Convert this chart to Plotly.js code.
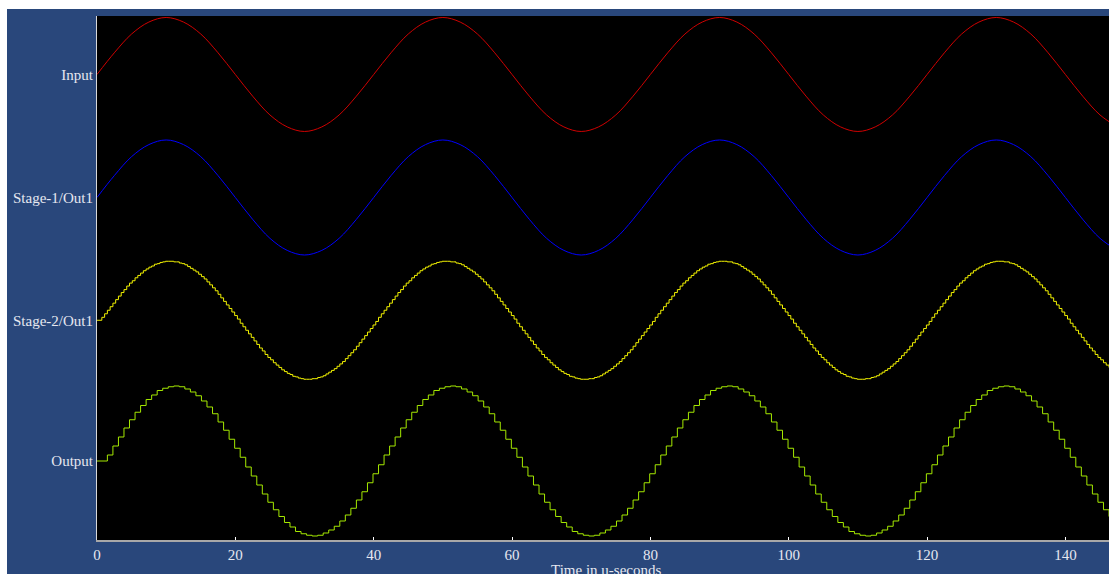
<!DOCTYPE html>
<html>
<head>
<meta charset="utf-8">
<script src="https://cdn.plot.ly/plotly-3.0.1.min.js"></script>
<style>
  html, body { margin: 0; padding: 0; background: #ffffff; width: 1109px; height: 574px; overflow: hidden; }
  #chart { position: absolute; left: 7px; top: 9px; width: 1102px; height: 565px; }
</style>
</head>
<body>
<div id="chart"></div>
<script>
// ---- Signal names (y tick labels) ----
const signalNames = ["Input", "Stage-1/Out1", "Stage-2/Out1", "Output"];
const xTitle = "Time in u-seconds";
// baseline of each stacked signal and its swing (in input-amplitude units)
const offsets = [0, -2.158, -4.312, -6.781];
const amplitudes = [1, 1.009, 1.035, 1.316];

// ---- Sampling clocks (µs) ----
const inputStep = 2.5;            // smooth input sampled every 2.5 µs
const stage1Step = 2.5;
const stage2FirstEdge = 0.7, stage2Step = 0.4;
const outputFirstEdge = 1.5, outputStep = 0.8;

// ---- Normalised signal values ----
const inputValues = [0,.38,.71,.92,1,.92,.71,.38,0,-.38,-.71,-.92,-1,-.92,-.71,-.38,
  0,.38,.71,.92,1,.92,.71,.38,0,-.38,-.71,-.92,-1,-.92,-.71,-.38,
  0,.38,.71,.92,1,.92,.71,.38,0,-.38,-.71,-.92,-1,-.92,-.71,-.38,
  0,.38,.71,.92,1,.92,.71,.38,0,-.38,-.71,-.92];

const stage1Values = [0,.38,.71,.92,1,.92,.71,.38,0,-.38,-.71,-.92,-1,-.92,-.71,-.38,
  0,.38,.71,.92,1,.92,.71,.38,0,-.38,-.71,-.92,-1,-.92,-.71,-.38,
  0,.38,.71,.92,1,.92,.71,.38,0,-.38,-.71,-.92,-1,-.92,-.71,-.38,
  0,.38,.71,.92,1,.92,.71,.38,0,-.38,-.71,-.92];

// held values: first entry is the level before the first clock edge
const stage2Values = [0,
  .05,.11,.17,.23,.29,.35,.41,.47,.52,.58,.63,.67,.72,.76,.8,.84,.87,.9,.92,.95,.96,.98,.99,1,1,1,.99,.99,.97,.96,.94,.91,.88,.85,.82,.78,.74,.7,.65,.6,.55,.5,.44,.38,.32,.26,.2,.14,.08,.02,
  -.05,-.11,-.17,-.23,-.29,-.35,-.41,-.47,-.52,-.58,-.63,-.67,-.72,-.76,-.8,-.84,-.87,-.9,-.92,-.95,-.96,-.98,-.99,-1,-1,-1,-.99,-.99,-.97,-.96,-.94,-.91,-.88,-.85,-.82,-.78,-.74,-.7,-.65,-.6,-.55,-.5,-.44,-.38,-.32,-.26,-.2,-.14,-.08,-.02,
  .05,.11,.17,.23,.29,.35,.41,.47,.52,.58,.63,.67,.72,.76,.8,.84,.87,.9,.92,.95,.96,.98,.99,1,1,1,.99,.99,.97,.96,.94,.91,.88,.85,.82,.78,.74,.7,.65,.6,.55,.5,.44,.38,.32,.26,.2,.14,.08,.02,
  -.05,-.11,-.17,-.23,-.29,-.35,-.41,-.47,-.52,-.58,-.63,-.67,-.72,-.76,-.8,-.84,-.87,-.9,-.92,-.95,-.96,-.98,-.99,-1,-1,-1,-.99,-.99,-.97,-.96,-.94,-.91,-.88,-.85,-.82,-.78,-.74,-.7,-.65,-.6,-.55,-.5,-.44,-.38,-.32,-.26,-.2,-.14,-.08,-.02,
  .05,.11,.17,.23,.29,.35,.41,.47,.52,.58,.63,.67,.72,.76,.8,.84,.87,.9,.92,.95,.96,.98,.99,1,1,1,.99,.99,.97,.96,.94,.91,.88,.85,.82,.78,.74,.7,.65,.6,.55,.5,.44,.38,.32,.26,.2,.14,.08,.02,
  -.05,-.11,-.17,-.23,-.29,-.35,-.41,-.47,-.52,-.58,-.63,-.67,-.72,-.76,-.8,-.84,-.87,-.9,-.92,-.95,-.96,-.98,-.99,-1,-1,-1,-.99,-.99,-.97,-.96,-.94,-.91,-.88,-.85,-.82,-.78,-.74,-.7,-.65,-.6,-.55,-.5,-.44,-.38,-.32,-.26,-.2,-.14,-.08,-.02,
  .05,.11,.17,.23,.29,.35,.41,.47,.52,.58,.63,.67,.72,.76,.8,.84,.87,.9,.92,.95,.96,.98,.99,1,1,1,.99,.99,.97,.96,.94,.91,.88,.85,.82,.78,.74,.7,.65,.6,.55,.5,.44,.38,.32,.26,.2,.14,.08,.02,
  -.05,-.11,-.17,-.23,-.29,-.35,-.41,-.47,-.52,-.58,-.63,-.67,-.72,-.76,-.8];

const outputValues = [0,
  .08,.2,.32,.44,.55,.65,.74,.82,.88,.94,.97,.99,1,.99,.96,.92,.87,.8,.72,.63,.52,.41,.29,.17,.05,
  -.08,-.2,-.32,-.44,-.55,-.65,-.74,-.82,-.88,-.94,-.97,-.99,-1,-.99,-.96,-.92,-.87,-.8,-.72,-.63,-.52,-.41,-.29,-.17,-.05,
  .08,.2,.32,.44,.55,.65,.74,.82,.88,.94,.97,.99,1,.99,.96,.92,.87,.8,.72,.63,.52,.41,.29,.17,.05,
  -.08,-.2,-.32,-.44,-.55,-.65,-.74,-.82,-.88,-.94,-.97,-.99,-1,-.99,-.96,-.92,-.87,-.8,-.72,-.63,-.52,-.41,-.29,-.17,-.05,
  .08,.2,.32,.44,.55,.65,.74,.82,.88,.94,.97,.99,1,.99,.96,.92,.87,.8,.72,.63,.52,.41,.29,.17,.05,
  -.08,-.2,-.32,-.44,-.55,-.65,-.74,-.82,-.88,-.94,-.97,-.99,-1,-.99,-.96,-.92,-.87,-.8,-.72,-.63,-.52,-.41,-.29,-.17,-.05,
  .08,.2,.32,.44,.55,.65,.74,.82,.88,.94,.97,.99,1,.99,.96,.92,.87,.8,.72,.63,.52,.41,.29,.17,.05,
  -.08,-.2,-.32,-.44,-.55,-.65,-.74];

// ---- Axis ticks ----
const xTickValues = [0, 20, 40, 60, 80, 100, 120, 140];
const xRange = [0, 146.3];

// ---- time grids from the sampling clocks ----
function uniformTimes(values, step) {
  return values.map((_, i) => +(i * step).toFixed(3));
}
function heldTimes(values, firstEdge, step) {
  return values.map((_, i) => i === 0 ? 0 : +(firstEdge + (i - 1) * step).toFixed(3));
}
function stack(values, idx) {
  return values.map(v => offsets[idx] + amplitudes[idx] * v);
}

const colors = ["#d00000", "#0000ff", "#f2f200", "#a4e800"];

const traces = [
  { x: uniformTimes(inputValues, inputStep), y: stack(inputValues, 0), mode: "lines",
    line: { color: colors[0], width: 1, shape: "spline", smoothing: 1 }, name: signalNames[0] },
  { x: uniformTimes(stage1Values, stage1Step), y: stack(stage1Values, 1), mode: "lines",
    line: { color: colors[1], width: 1, shape: "spline", smoothing: 1 }, name: signalNames[1] },
  { x: heldTimes(stage2Values, stage2FirstEdge, stage2Step), y: stack(stage2Values, 2), mode: "lines",
    line: { color: colors[2], width: 1, shape: "hv" }, name: signalNames[2] },
  { x: heldTimes(outputValues, outputFirstEdge, outputStep), y: stack(outputValues, 3), mode: "lines",
    line: { color: colors[3], width: 1, shape: "hv" }, name: signalNames[3] }
];

const textColor = "#e6e8f0";
const fontFamily = "'Liberation Serif', 'DejaVu Serif', serif";

const layout = {
  width: 1102, height: 565,
  paper_bgcolor: "#29477b",
  plot_bgcolor: "#000000",
  showlegend: false,
  margin: { l: 90, r: 0, t: 7, b: 34, pad: 0 },
  font: { family: fontFamily, size: 15, color: textColor },
  xaxis: {
    range: xRange,
    tickvals: xTickValues,
    ticks: "inside", ticklen: 3, tickwidth: 1, tickcolor: "#ffffff",
    showline: true, linecolor: "#a8a8a8", linewidth: 2,
    showgrid: false, zeroline: false,
    tickfont: { family: fontFamily, size: 15, color: textColor },
    automargin: false
  },
  yaxis: {
    range: [-8.167, 1.026],
    tickvals: offsets,
    ticktext: signalNames,
    ticks: "",
    showline: true, linecolor: "#d8d8d8", linewidth: 1,
    showgrid: false, zeroline: false,
    tickfont: { family: fontFamily, size: 15, color: textColor },
    automargin: false
  },
  annotations: [{
    text: xTitle,
    xref: "paper", yref: "paper", x: 0.5, y: 0,
    xanchor: "center", yanchor: "middle",
    xshift: 3, yshift: -30,
    showarrow: false,
    font: { family: fontFamily, size: 15, color: textColor }
  }]
};

Plotly.newPlot("chart", traces, layout, { staticPlot: true, displayModeBar: false });
</script>
</body>
</html>
